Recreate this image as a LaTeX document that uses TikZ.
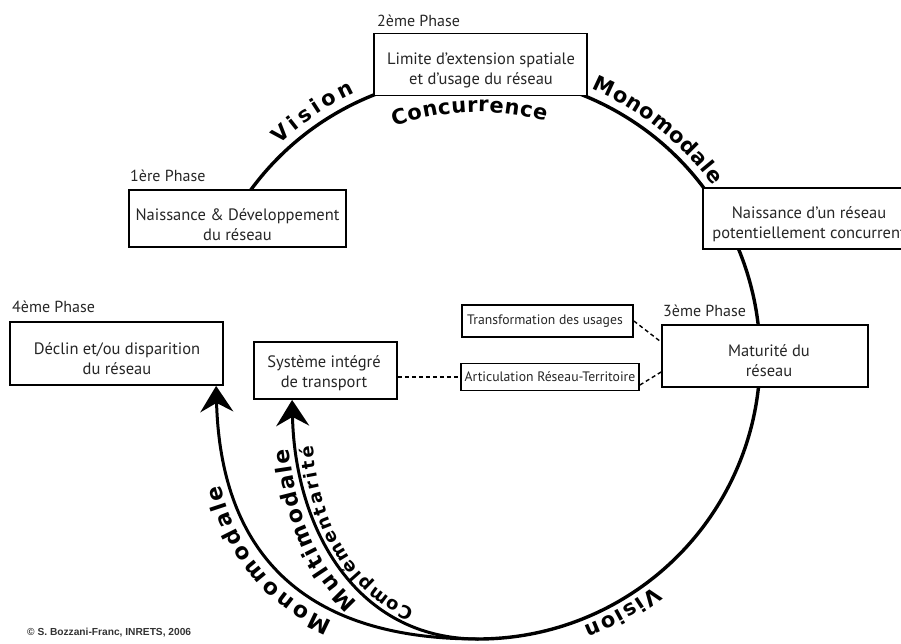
\documentclass[tikz,border=0pt]{standalone}
\usepackage{fontspec}
\setmainfont{PT Sans}
\newfontfamily\labfont{DejaVu Sans}
\newfontfamily\credfont{Liberation Sans}
\usetikzlibrary{arrows.meta,decorations.text,calc}
\newcommand\arclab{\labfont\bfseries\fontsize{21}{21}\selectfont}
\newcommand\arrlab{\labfont\bfseries\fontsize{22}{22}\selectfont}
\newcommand\complab{\labfont\bfseries\fontsize{18}{18}\selectfont}
\begin{document}
\begin{tikzpicture}[x=1pt,y=1pt,
  ring/.style={line width=3.4pt, line cap=round},
  boxline/.style={draw, line width=1.8pt, fill=white, inner sep=0pt},
  boxtext/.style={align=center, font=\fontsize{16.5}{20}\selectfont, text=black!85, inner sep=0pt},
  smalltext/.style={font=\fontsize{13.7}{15}\selectfont, text=black!85, inner sep=0pt},
  phase/.style={font=\fontsize{16}{18}\selectfont, text=black!85, inner sep=0pt, anchor=base west},
  flow/.style={line width=3pt, line cap=round, -{Stealth[length=26pt,width=33pt,inset=9pt]}},
  link/.style={line width=1.4pt, dash pattern=on 4pt off 3pt},
  curvelabel/.style={decorate, decoration={text along path, text align={fit to path}, #1}},
]
\useasboundingbox (0,0) rectangle (901,-643);

% main cycle: from the first phase clockwise to the bottom
\coordinate (O) at (478,-357);
\coordinate (bot) at ($(O)+(-90:282)$);
\draw[ring] ($(O)+(150:282)$) arc[start angle=150, end angle=-90, radius=282];

% boxes
\node[boxline, minimum width=213, minimum height=62] (b2) at (480.5,-64.5) {};
\node[boxline, minimum width=217, minimum height=57] (b1) at (237.5,-218.5) {};
\node[boxline, minimum width=204, minimum height=61] (b5) at (805,-218.5) {};
\node[boxline, minimum width=213, minimum height=63] (b4) at (116.5,-353.5) {};
\node[boxline, minimum width=143, minimum height=57] (b6) at (325.5,-370.5) {};
\node[boxline, minimum width=206, minimum height=62] (b3) at (765,-356) {};
\node[boxline, minimum width=171, minimum height=32] (bt) at (547.5,-321) {};
\node[boxline, minimum width=178, minimum height=27] (ba) at (550,-377) {};

% box texts
\node[boxtext] (t2) at (481,-70) {Limite d'extension spatiale\\et d'usage du réseau};
\node[boxtext] (t1) at (237.5,-225) {Naissance \& Développement\\du réseau};
\node[boxtext] (t5) at (809,-224) {Naissance d'un réseau\\potentiellement concurrent};
\node[boxtext] (t4) at (117,-359) {Déclin et/ou disparition\\du réseau};
\node[boxtext] (t6) at (324,-373) {Système intégré\\de transport};
\node[boxtext] (t3) at (769,-361) {Maturité du\\réseau};
\node[smalltext] (tt) at (545,-321) {Transformation des usages};
\node[smalltext] (ta) at (550,-377) {Articulation Réseau-Territoire};

% phase labels
\node[phase] (p2) at (377,-26) {2ème Phase};
\node[phase] (p1) at (130,-181) {1ère Phase};
\node[phase] (p4) at (12,-312) {4ème Phase};
\node[phase] (p3) at (663,-316) {3ème Phase};

% dashed links
\draw[link] (bt.east) -- ($(b3.west)+(0,14)$);
\draw[link] ($(ba.east)+(0,-8)$) -- ($(b3.west)+(0,-16)$);
\draw[link] (b6.east |- ba.west) -- (ba.west);

% arrows from the bottom of the cycle
\coordinate (tip4) at ($(b4.south west)+(207,0)$);
\coordinate (tip6) at ($(b6.south west)+(39,0)$);
\draw[flow] (bot) .. controls (281,-639) and (220,-530) .. (tip4);
\draw[flow] (bot) .. controls (357,-639) and (295,-530) .. (tip6);

% labels along the cycle
\path[curvelabel={text={|\arclab|Vision}}] ($(O)+(133:291)$) arc[start angle=133,end angle=115,radius=291];
\path[curvelabel={text={|\arclab|Monomodale}}] ($(O)+(67:291)$) arc[start angle=67,end angle=36,radius=291];
\path[curvelabel={text={|\arclab|Concurrence}}] ($(O)+(110:245)$) arc[start angle=110,end angle=74,radius=245];
\path[curvelabel={text={|\arclab|Vision}}] ($(O)+(-52.5:289)$) arc[start angle=-52.5,end angle=-68.5,radius=289];

% labels along the arrows
\path[curvelabel={text={|\arrlab|Monomodale}, raise=6pt}] (335.4,-615.5) .. controls (274.2,-589.8) and (241.1,-544.1) .. (226.4,-483.1);
\path[curvelabel={text={|\arrlab|Multimodale}, raise=5.5pt}] (361.2,-598.5) .. controls (322.9,-564.9) and (300.6,-512.2) .. (294.6,-447.6);
\path[curvelabel={text={|\complab|Complémentarité}, raise=-18.5pt}] (406.7,-626.4) .. controls (340.2,-600.2) and (302.7,-534.6) .. (294.6,-447.6);

% credit
\node[anchor=base west, inner sep=0pt, font=\credfont\bfseries\fontsize{10.2}{12}\selectfont, text=black!80] (cr) at (27,-635) {© S. Bozzani-Franc, INRETS, 2006};
\end{tikzpicture}
\end{document}
